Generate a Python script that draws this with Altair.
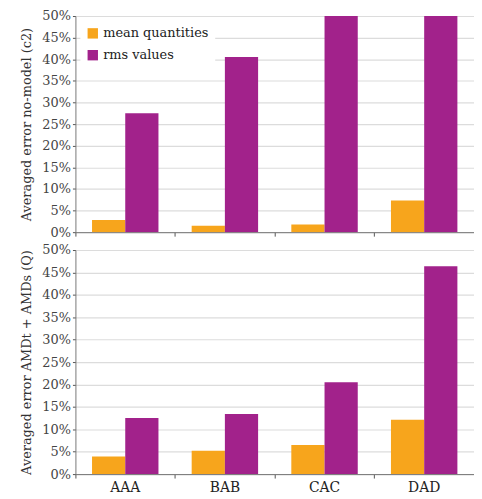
import altair as alt
import pandas as pd

categories = ["AAA", "BAB", "CAC", "DAD"]
series = ["mean quantities", "rms values"]
colors = ["#F7A51C", "#A2228B"]

top_mean = [2.8, 1.5, 1.8, 7.3]
top_rms = [27.5, 40.5, 55.0, 58.0]   # last two run off the 50% axis limit
bot_mean = [3.9, 5.2, 6.5, 12.1]
bot_rms = [12.5, 13.4, 20.5, 46.4]

y_ticks = [0, 5, 10, 15, 20, 25, 30, 35, 40, 45, 50]

def frame(mean, rms):
    rows = []
    for c, m, r in zip(categories, mean, rms):
        rows.append({"cat": c, "series": series[0], "v": m / 100})
        rows.append({"cat": c, "series": series[1], "v": r / 100})
    return pd.DataFrame(rows)

FONT = "DejaVu Serif"
W = 402

def panel(df, title, show_labels, show_legend, h):
    x_axis = alt.Axis(
        title=None, labels=show_labels, bandPosition=0,
        domainColor="#777", tickColor="#555", tickSize=4, labelAngle=0,
        labelFont=FONT, labelFontSize=14, labelColor="#222", labelPadding=3,
    )
    y_axis = alt.Axis(
        title=title, format=".0%", values=[t / 100 for t in y_ticks],
        domainColor="#777", tickColor="#555", tickSize=3,
        gridColor="#dcdcdc", gridWidth=1.2,
        labelFont=FONT, labelFontSize=13, labelColor="#444", labelPadding=2,
        titleFont=FONT, titleFontSize=13, titleFontWeight="normal",
        titleColor="#333", titlePadding=8,
    )
    legend = alt.Legend(
        title=None, orient="top-left", offset=5, fillColor="white",
        padding=6, symbolType="square", symbolSize=110, symbolStrokeWidth=0,
        labelFont=FONT, labelFontSize=13, labelColor="#222",
        rowPadding=8, labelOffset=4,
    ) if show_legend else None
    return alt.Chart(df).mark_bar(clip=True).encode(
        x=alt.X("cat:N", sort=categories, axis=x_axis,
                scale=alt.Scale(paddingInner=0, paddingOuter=0)),
        xOffset=alt.XOffset("series:N", sort=series,
                            scale=alt.Scale(paddingInner=0, paddingOuter=0.5)),
        y=alt.Y("v:Q", axis=y_axis,
                scale=alt.Scale(domain=[0, 0.5], nice=False)),
        color=alt.Color("series:N", sort=series, legend=legend,
                        scale=alt.Scale(domain=series, range=colors)),
    ).properties(width=W, height=h)

top = panel(frame(top_mean, top_rms), "Averaged error no-model (c2)", False, True, 218)
bottom = panel(frame(bot_mean, bot_rms), "Averaged error AMDt + AMDs (Q)", True, False, 226)

chart = alt.vconcat(top, bottom, spacing=5).resolve_legend(
    color="independent"
).properties(
    padding={"left": 13, "top": 0, "right": 0, "bottom": 0}
).configure_view(stroke=None)

chart.save("out.html", embed_options={"renderer": "svg", "actions": False})
